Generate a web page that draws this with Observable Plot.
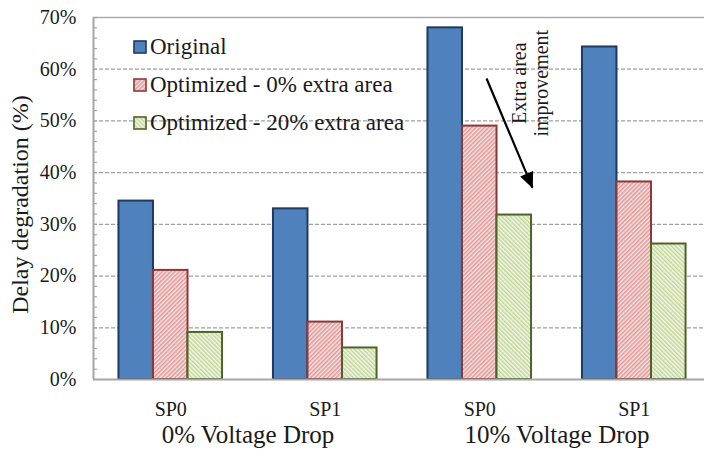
<!DOCTYPE html>
<html>
<head>
<meta charset="utf-8">
<script src="https://cdn.jsdelivr.net/npm/d3@7"></script>
<script src="https://cdn.jsdelivr.net/npm/@observablehq/plot@0.6"></script>
<style>
  html, body { margin: 0; padding: 0; background: #fff; overflow: hidden; }
  #wrap { position: relative; width: 704px; height: 457px; }
  #legend { position: absolute; left: 133px; top: 28px; font-family: "Liberation Serif", "Times New Roman", serif; font-size: 23px; color: #1a1a1a; }
  #legend .item { display: flex; align-items: center; height: 38px; white-space: nowrap; }
  #legend svg { width: 14px; height: 14px; margin-right: 3px; flex: none; }
</style>
</head>
<body>
<div id="wrap"><div id="legend"></div></div>
<script>
// Sub-categories along the x axis, and the voltage-drop group each belongs to
const groups = ["SP0", "SP1", "SP0", "SP1"];
const drops = ["0% Voltage Drop", "10% Voltage Drop"];
const dropCenters = [0.5, 2.5];

// Delay degradation (%) per series
const seriesNames = ["Original", "Optimized - 0% extra area", "Optimized - 20% extra area"];
const original = [34.5, 33.0, 68.0, 64.3];
const opt0 = [21.1, 11.1, 49.0, 38.2];
const opt20 = [9.1, 6.1, 31.8, 26.2];

const yTicks = [0, 10, 20, 30, 40, 50, 60, 70];
const yMinor = d3.range(0, 71, 2);

// Arrow annotation (x in group units, y in %)
const arrow = [{x1: 2.044, y1: 58.2, x2: 2.341, y2: 37.1}];
const note = [{x: 2.322, y: 57.3, text: "Extra area\nimprovement"}];

const styles = [
  {fill: "#4F81BD", stroke: "#1F3A60"},
  {fill: "url(#hatchRed)", stroke: "#8C3836"},
  {fill: "url(#hatchGreen)", stroke: "#4F6228"}
];

const barW = 0.2235;
const rows = [];
[original, opt0, opt20].forEach((vals, s) => {
  vals.forEach((v, g) => rows.push({
    series: seriesNames[s], s, group: g,
    x1: g + (s - 1.5) * barW, x2: g + (s - 0.5) * barW, value: v
  }));
});

const serif = "'Liberation Serif', 'Times New Roman', serif";

const chart = Plot.plot({
  width: 704,
  height: 457,
  marginLeft: 93,
  marginRight: -7,
  marginTop: 17,
  marginBottom: 78,
  style: {fontFamily: serif, fontSize: "20px", color: "#1a1a1a", background: "#fff", overflow: "visible"},
  x: {domain: [-0.5, 3.5], axis: null},
  y: {domain: [0, 70], axis: null},
  marks: [
    // dashed gridlines
    Plot.ruleY(yTicks.filter(d => d > 0 && d < 70), {stroke: "#A0A0A0", strokeWidth: 1.2, strokeDasharray: "4,2"}),
    Plot.ruleY([70], {stroke: "#AAAAAA", strokeWidth: 1.5}),
    // bars, one mark per series
    ...styles.map((st, s) => Plot.rectY(rows.filter(d => d.s === s), {
      x1: "x1", x2: "x2", y1: 0, y2: "value",
      fill: st.fill, stroke: st.stroke, strokeWidth: 2
    })),
    // axis lines
    Plot.ruleY([0], {stroke: "#A6A6A6", strokeWidth: 2}),
    Plot.ruleX([-0.5], {stroke: "#A6A6A6", strokeWidth: 2}),
    // minor ticks pointing into the plot
    Plot.axisY(yMinor, {anchor: "left", tickSize: -4, text: null, stroke: "#A6A6A6", strokeWidth: 1.2}),
    // y tick labels
    Plot.axisY(yTicks, {anchor: "left", tickSize: 0, tickPadding: 17, tickFormat: d => d + "%", fontSize: 20, fill: "#1a1a1a"}),
    // sub-category labels
    Plot.axisX([0, 1, 2, 3], {anchor: "bottom", tickSize: 0, tickPadding: 22, tickFormat: i => groups[i], fontSize: 20, fill: "#1a1a1a"}),
    // group labels
    Plot.text(drops, {x: (d, i) => dropCenters[i], text: d => d, frameAnchor: "bottom", dy: 63, fontSize: 25, fill: "#1a1a1a"}),
    // y axis title
    Plot.text(["Delay degradation (%)"], {frameAnchor: "left", textAnchor: "middle", rotate: -90, dx: -73, dy: 6, fontSize: 24, fill: "#1a1a1a"}),
    // annotation
    Plot.link(arrow, {x1: "x1", y1: "y1", x2: "x2", y2: "y2", stroke: "#000", strokeWidth: 2.2}),
    Plot.text(note, {x: "x", y: "y", text: "text", rotate: -90, fontSize: 20, lineHeight: 1.1, fill: "#1a1a1a"})
  ]
});

// Hatch patterns and filled arrowhead
const defs = d3.select(chart).insert("defs", ":first-child");
function hatch(id, angle, bg, fg) {
  const p = defs.append("pattern").attr("id", id).attr("patternUnits", "userSpaceOnUse")
    .attr("width", 3).attr("height", 3).attr("patternTransform", `rotate(${angle})`);
  p.append("rect").attr("width", 3).attr("height", 3).attr("fill", bg);
  p.append("rect").attr("width", 1.5).attr("height", 3).attr("fill", fg);
}
hatch("hatchRed", 45, "#F6E1E0", "#DE9A98");
hatch("hatchGreen", -45, "#F1F6E6", "#C3D69B");
defs.append("marker").attr("id", "arrowHead").attr("markerUnits", "userSpaceOnUse")
  .attr("viewBox", "-16 -8 17 16").attr("markerWidth", 17).attr("markerHeight", 16)
  .attr("refX", 0).attr("refY", 0).attr("orient", "auto")
  .append("path").attr("d", "M-15,-7L1,0L-15,7Z").attr("fill", "#000");
d3.select(chart).selectAll('g[aria-label="link"] path').attr("marker-end", "url(#arrowHead)");

document.getElementById("wrap").prepend(chart);

// Legend
const legend = d3.select("#legend");
seriesNames.forEach((name, s) => {
  const item = legend.append("div").attr("class", "item");
  const sw = item.append("svg").attr("viewBox", "0 0 14 14");
  sw.append("rect").attr("x", 1).attr("y", 1).attr("width", 12).attr("height", 12)
    .attr("fill", styles[s].fill).attr("stroke", styles[s].stroke).attr("stroke-width", 1.6);
  item.append("span").text(name);
});
</script>
</body>
</html>
